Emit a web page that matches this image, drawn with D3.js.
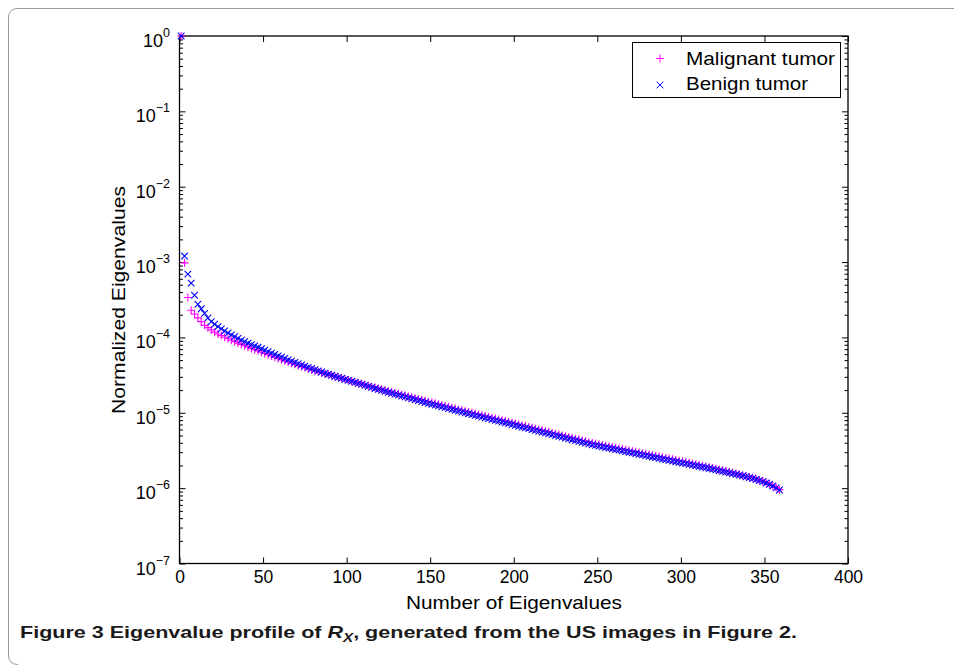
<!DOCTYPE html>
<html>
<head>
<meta charset="utf-8">
<script src="https://cdn.jsdelivr.net/npm/d3@7"></script>
<style>
    body { margin: 0; background: #fff; }
    svg { display: block; font-family: "Liberation Sans", Arial, sans-serif; }
    .tick line { stroke: #000; }
    .domain { stroke: none; }
</style>
</head>
<body>
<div id="chart"></div>
<script>
// eigenvalue numbers plotted (every second one, 1..359)
const eigenIndex = d3.range(1, 360, 2);

// log10 of the normalized eigenvalues
const malignantLog10 = [
    0, -3.01, -3.47, -3.64, -3.69, -3.74, -3.79, -3.84, -3.87, -3.90, -3.93, -3.954,
    -3.976, -3.997, -4.017, -4.037, -4.056, -4.075, -4.093, -4.111, -4.129, -4.146, -4.162, -4.178,
    -4.196, -4.213, -4.230, -4.247, -4.263, -4.279, -4.295, -4.311, -4.327, -4.342, -4.357, -4.372,
    -4.386, -4.400, -4.414, -4.428, -4.442, -4.455, -4.468, -4.481, -4.493, -4.505, -4.517, -4.529, -4.541,
    -4.553, -4.566, -4.578, -4.591, -4.603, -4.616, -4.628, -4.641, -4.653, -4.666, -4.678, -4.691,
    -4.702, -4.714, -4.725, -4.737, -4.748, -4.760, -4.771, -4.783, -4.794, -4.806, -4.817, -4.829, -4.840,
    -4.852, -4.863, -4.875, -4.886, -4.898, -4.909, -4.921, -4.932, -4.944, -4.955, -4.967, -4.978,
    -4.989, -5.000, -5.011, -5.022, -5.033, -5.044, -5.055, -5.066, -5.077, -5.088, -5.099, -5.110, -5.121,
    -5.132, -5.143, -5.155, -5.166, -5.177, -5.188, -5.199, -5.211, -5.222, -5.233, -5.244, -5.255,
    -5.267, -5.278, -5.289, -5.300, -5.311, -5.323, -5.334, -5.345, -5.356, -5.367, -5.379, -5.390, -5.401,
    -5.410, -5.419, -5.428, -5.437, -5.446, -5.455, -5.464, -5.473, -5.482, -5.491, -5.500, -5.509,
    -5.518, -5.527, -5.536, -5.545, -5.554, -5.563, -5.572, -5.581, -5.590, -5.599, -5.608, -5.617, -5.626,
    -5.635, -5.644, -5.654, -5.663, -5.673, -5.682, -5.692, -5.702, -5.712, -5.722,
    -5.732, -5.742, -5.753, -5.763, -5.774, -5.784, -5.795, -5.806, -5.817, -5.828,
    -5.839, -5.851, -5.863, -5.877, -5.891, -5.907, -5.925, -5.945, -5.967, -5.992, -6.020
];

const benignLog10 = [
    0, -2.92, -3.16, -3.28, -3.44, -3.56, -3.62, -3.68, -3.74, -3.79, -3.825, -3.857,
    -3.887, -3.915, -3.941, -3.966, -3.990, -4.013, -4.035, -4.056, -4.076, -4.095, -4.113, -4.131,
    -4.151, -4.170, -4.189, -4.208, -4.226, -4.244, -4.262, -4.280, -4.298, -4.315, -4.332, -4.349,
    -4.365, -4.381, -4.397, -4.413, -4.429, -4.444, -4.459, -4.474, -4.488, -4.502, -4.516, -4.530, -4.544,
    -4.557, -4.570, -4.583, -4.597, -4.610, -4.623, -4.637, -4.650, -4.663, -4.677, -4.690, -4.703,
    -4.715, -4.728, -4.740, -4.752, -4.765, -4.777, -4.789, -4.802, -4.814, -4.826, -4.838, -4.851, -4.863,
    -4.875, -4.886, -4.898, -4.909, -4.921, -4.932, -4.944, -4.955, -4.967, -4.978, -4.990, -5.001,
    -5.012, -5.023, -5.034, -5.045, -5.056, -5.067, -5.078, -5.089, -5.100, -5.111, -5.122, -5.133, -5.144,
    -5.155, -5.166, -5.178, -5.189, -5.200, -5.211, -5.222, -5.234, -5.245, -5.256, -5.267, -5.278,
    -5.290, -5.301, -5.312, -5.323, -5.334, -5.346, -5.357, -5.368, -5.379, -5.390, -5.402, -5.413, -5.424,
    -5.433, -5.442, -5.451, -5.460, -5.469, -5.478, -5.487, -5.496, -5.505, -5.514, -5.523, -5.532,
    -5.541, -5.550, -5.559, -5.568, -5.577, -5.586, -5.595, -5.604, -5.613, -5.622, -5.631, -5.640, -5.649,
    -5.658, -5.666, -5.675, -5.684, -5.693, -5.702, -5.711, -5.720, -5.729, -5.739,
    -5.748, -5.758, -5.767, -5.777, -5.787, -5.797, -5.807, -5.817, -5.828, -5.838,
    -5.849, -5.860, -5.872, -5.885, -5.899, -5.914, -5.931, -5.950, -5.971, -5.996, -6.025
];

const seriesNames = ["Malignant tumor", "Benign tumor"];
const xTickValues = [0, 50, 100, 150, 200, 250, 300, 350, 400];
const yDecades = [-7, -6, -5, -4, -3, -2, -1, 0];

(function() {

    let width = 954,
        height = 665;
    let left = 179.5, right = 848, top = 36, bottom = 563.5;

    let svg = d3.select("#chart")
        .append("svg")
        .attr("width", width)
        .attr("height", height);

    svg.append("rect").attr("width", width).attr("height", height).attr("fill", "#fff");

    // page frame (rounded corner box around figure + caption)
    svg.append("path")
        .attr("d", `M${width},8.5 H18 Q8.5,8.5 8.5,18 V655 Q8.5,664.5 18,664.5`)
        .attr("fill", "none")
        .attr("stroke", "#9a9a9a")
        .attr("stroke-width", 1);

    let x = d3.scaleLinear().domain([0, 400]).range([left, right]);
    let y = d3.scaleLog().domain([1e-7, 1]).range([bottom, top]);

    // minor ticks 2..9 within every decade
    let minor = [];
    yDecades.slice(0, -1).forEach(e => {
        for (let m = 2; m <= 9; m++) minor.push(m * Math.pow(10, e));
    });
    let major = yDecades.map(e => Math.pow(10, e));

    // x axis bottom + top (ticks inward, MATLAB style)
    svg.append("g")
        .attr("transform", `translate(0, ${bottom})`)
        .call(d3.axisBottom(x).tickValues(xTickValues).tickSizeInner(-6).tickSizeOuter(0).tickPadding(7))
        .call(g => g.selectAll("text").attr("font-size", 17.5).attr("fill", "#000")
            .attr("font-family", "Liberation Sans, Arial, sans-serif"));
    svg.append("g")
        .attr("transform", `translate(0, ${top})`)
        .call(d3.axisTop(x).tickValues(xTickValues).tickSizeInner(-6).tickSizeOuter(0).tickFormat(""));

    // y axis left + right, majors and minors
    [[d3.axisLeft, left], [d3.axisRight, right]].forEach(([axisFn, pos]) => {
        svg.append("g")
            .attr("transform", `translate(${pos}, 0)`)
            .call(axisFn(y).tickValues(major).tickSizeInner(-6).tickSizeOuter(0).tickFormat(""));
        svg.append("g")
            .attr("transform", `translate(${pos}, 0)`)
            .call(axisFn(y).tickValues(minor).tickSizeInner(-3.5).tickSizeOuter(0).tickFormat(""));
    });

    // y tick labels 10^n
    let ylab = svg.append("g")
        .attr("font-size", 18)
        .attr("text-anchor", "end");
    yDecades.forEach(e => {
        let t = ylab.append("text")
            .attr("x", 170)
            .attr("y", y(Math.pow(10, e)) + 11);
        t.append("tspan").text("10");
        t.append("tspan")
            .attr("font-size", 12.5)
            .attr("dy", -10)
            .text(e === 0 ? "0" : "\u2212" + Math.abs(e));
    });

    // plot box
    svg.append("rect")
        .attr("x", left).attr("y", top)
        .attr("width", right - left).attr("height", bottom - top)
        .attr("fill", "none")
        .attr("stroke", "#000")
        .attr("stroke-width", 1.3);

    // series markers
    let plusPath = "M-4,0H4M0,-4V4";
    let crossPath = "M-3.3,-3.3L3.3,3.3M-3.3,3.3L3.3,-3.3";

    let series = [
        { name: seriesNames[0], values: malignantLog10, color: "#ff00ff", shape: plusPath },
        { name: seriesNames[1], values: benignLog10, color: "#0000ff", shape: crossPath }
    ];

    series.forEach(s => {
        svg.append("g")
            .selectAll("path")
            .data(s.values)
            .enter()
            .append("path")
            .attr("transform", (d, i) => `translate(${x(eigenIndex[i])}, ${y(Math.pow(10, d))})`)
            .attr("d", s.shape)
            .attr("fill", "none")
            .attr("stroke", s.color)
            .attr("stroke-width", 1.1);
    });

    // legend
    let legend = svg.append("g");
    legend.append("rect")
        .attr("x", 632.5).attr("y", 42.5)
        .attr("width", 208).attr("height", 55)
        .attr("fill", "#fff")
        .attr("stroke", "#000")
        .attr("stroke-width", 1);
    let legendY = [58.5, 85];
    let legendBase = [64.5, 89.5];
    let legendLen = [149, 122];
    series.forEach((s, i) => {
        legend.append("path")
            .attr("transform", `translate(660, ${legendY[i]})`)
            .attr("d", s.shape)
            .attr("fill", "none")
            .attr("stroke", s.color);
        legend.append("text")
            .attr("x", 686)
            .attr("y", legendBase[i])
            .attr("font-size", 18.5)
            .attr("textLength", legendLen[i])
            .attr("lengthAdjust", "spacingAndGlyphs")
            .text(s.name);
    });

    // axis labels
    svg.append("text")
        .attr("x", 514)
        .attr("y", 609)
        .attr("text-anchor", "middle")
        .attr("font-size", 18.5)
        .attr("textLength", 216)
        .attr("lengthAdjust", "spacingAndGlyphs")
        .text("Number of Eigenvalues");

    svg.append("text")
        .attr("transform", "translate(125, 300) rotate(-90)")
        .attr("text-anchor", "middle")
        .attr("font-size", 18.5)
        .attr("textLength", 228)
        .attr("lengthAdjust", "spacingAndGlyphs")
        .text("Normalized Eigenvalues");

    // caption
    let cap = svg.append("text")
        .attr("x", 20)
        .attr("y", 638)
        .attr("font-family", "Liberation Sans Narrow, Liberation Sans, sans-serif")
        .attr("font-weight", "bold")
        .attr("font-size", 17)
        .attr("fill", "#1a1a1a")
        .attr("textLength", 777)
        .attr("lengthAdjust", "spacingAndGlyphs");
    cap.append("tspan").text("Figure 3 Eigenvalue profile of ");
    cap.append("tspan").attr("font-style", "italic").text("R");
    cap.append("tspan").attr("font-style", "italic").attr("font-size", 12).attr("dy", 4).text("X");
    cap.append("tspan").attr("dy", -4).text(", generated from the US images in Figure 2.");

})();
</script>
</body>
</html>
